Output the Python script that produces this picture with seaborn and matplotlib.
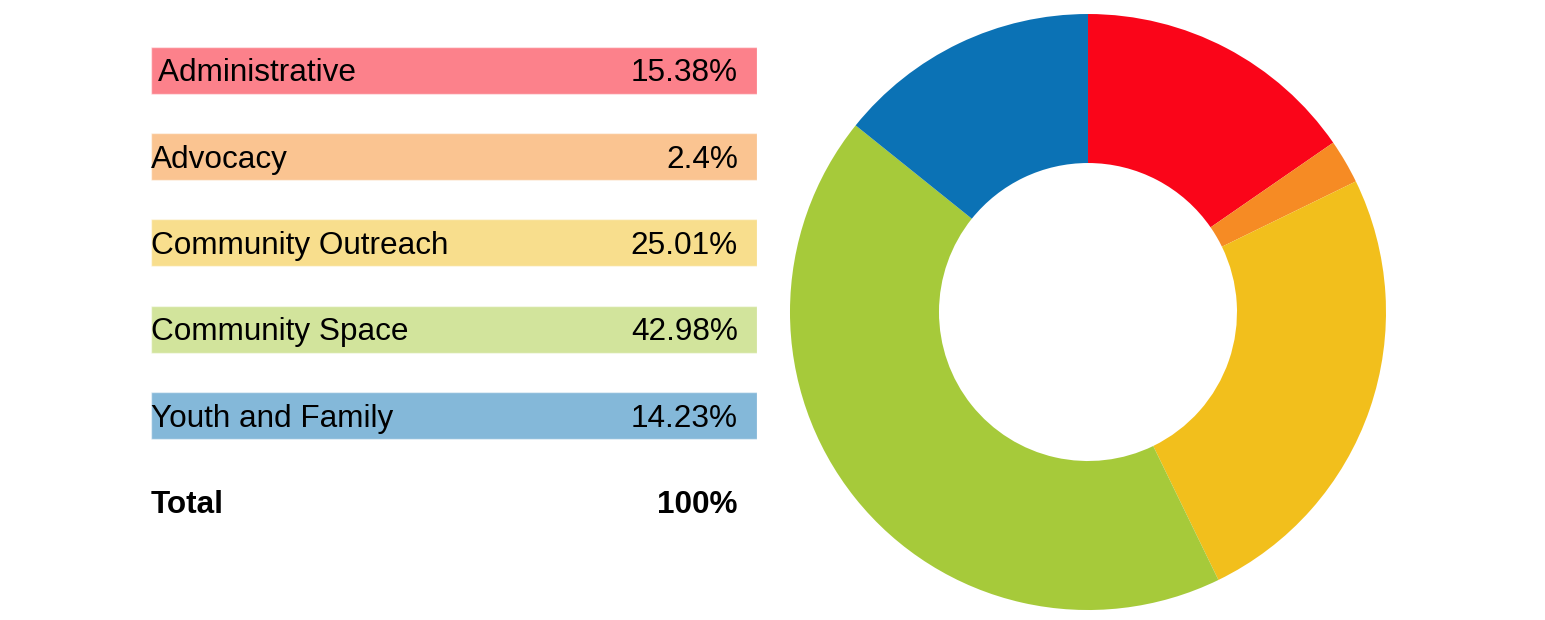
import pandas as pd
import numpy as np
import matplotlib.pyplot as plt
import seaborn as sns

# budget categories and their share
categories = ['Administrative', 'Advocacy', 'Community Outreach', 'Community Space', 'Youth and Family']
shares = [15.38, 2.4, 25.01, 42.98, 14.23]
share_labels = ['15.38%', '2.4%', '25.01%', '42.98%', '14.23%']
total_label = '100%'
colors = ['#FA0519', '#F68B24', '#F2BF1C', '#A6CA3A', '#0B72B5']

sns.set_style('white')
plt.rcParams['font.family'] = ['Liberation Sans', 'DejaVu Sans']
plt.rcParams['text.color'] = 'black'

df = pd.DataFrame({'category': categories, 'share': shares, 'label': share_labels})
df['row'] = np.arange(len(df))
df['full'] = 1.0

fig = plt.figure(figsize=(15.45, 6.2), dpi=100)

## table on the left
ax = fig.add_axes([0.0977, 0.1210, 0.3922, 0.8355])
sns.barplot(data=df, x='full', y='category', hue='category', palette=colors,
            orient='h', width=47 / 86, alpha=0.5, saturation=1, legend=False, ax=ax)
ax.set_xlim(0, 1)
ax.set_ylim(5.5, -0.5)
fs = 22.7
off = 0.13  # baseline offset so caps sit centered in the bar
for i, row in df.iterrows():
    name = row['category']
    if i == 0:
        name = ' ' + name
    ax.text(0, row['row'] + off, name, ha='left', va='baseline', fontsize=fs)
    ax.text(0.9686, row['row'] + off, row['label'], ha='right', va='baseline', fontsize=fs)
ax.text(0, len(df) + off, 'Total', ha='left', va='baseline', fontsize=fs, fontweight='bold')
ax.text(0.9686, len(df) + off, total_label, ha='right', va='baseline', fontsize=fs, fontweight='bold')
ax.set_xlabel('')
ax.set_ylabel('')
ax.set_xticks([])
ax.set_yticks([])
sns.despine(ax=ax, left=True, bottom=True)

## donut on the right
ax2 = fig.add_axes([0.5113, 0.0161, 0.3858, 0.9613])
ax2.pie(df['share'], colors=colors, startangle=90, counterclock=False,
        wedgeprops={'width': 0.5, 'linewidth': 0})
ax2.set_xlim(-1, 1)
ax2.set_ylim(-1, 1)
ax2.set_aspect('equal')
ax2.axis('off')

fig.savefig('out.png', dpi=100)
